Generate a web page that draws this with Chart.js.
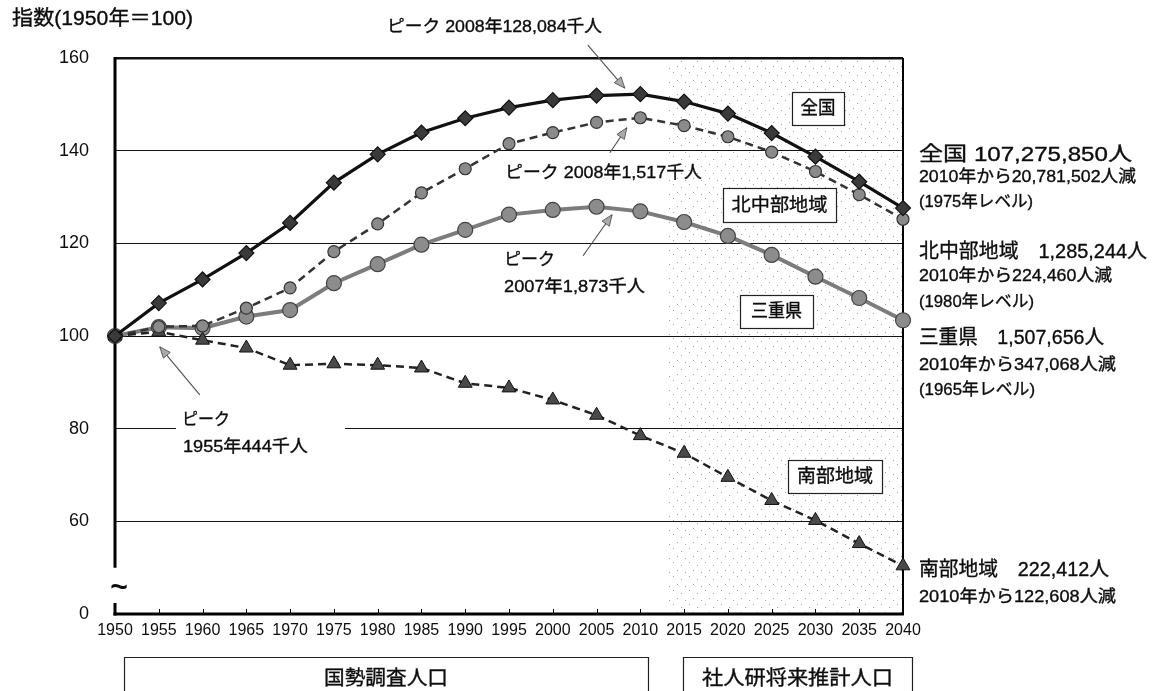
<!DOCTYPE html>
<html lang="ja">
<head>
<meta charset="utf-8">
<title>人口指数の推移（1950年＝100）</title>
<script src="https://cdn.jsdelivr.net/npm/chart.js@4.4.1/dist/chart.umd.min.js"></script>
<style>
  html, body { margin: 0; padding: 0; background: #fff; }
  #wrap { width: 1155px; height: 691px; position: relative; }
  canvas { display: block; }
</style>
</head>
<body>
<div id="wrap"><canvas id="c" width="1155" height="691"></canvas></div>
<script>
// ---- data: population index (1950 = 100) ----
const years = [1950, 1955, 1960, 1965, 1970, 1975, 1980, 1985, 1990, 1995,
               2000, 2005, 2010, 2015, 2020, 2025, 2030, 2035, 2040];

const zenkoku   = [100, 107.1, 112.2, 117.9, 124.4, 133.1, 139.2, 143.9, 147.0, 149.3,
                   150.9, 151.9, 152.2, 150.6, 148.0, 143.8, 138.7, 133.3, 127.6];
const hokuchubu = [100, 102.0, 102.2, 106.0, 110.4, 118.2, 124.2, 130.9, 136.1, 141.5,
                   143.9, 146.1, 147.1, 145.4, 143.0, 139.7, 135.5, 130.5, 125.2];
const mie       = [100, 101.9, 101.7, 104.2, 105.6, 111.4, 115.5, 119.7, 122.9, 126.2,
                   127.2, 127.9, 126.9, 124.6, 121.6, 117.5, 112.8, 108.2, 103.4];
const nanbu     = [100, 100.9, 99.1, 97.4, 93.7, 94.0, 93.7, 93.1, 89.8, 88.8,
                   86.2, 82.9, 78.5, 74.7, 69.5, 64.5, 60.2, 55.2, 50.4];

const seriesNames = ['全国', '北中部地域', '三重県', '南部地域'];

// y axis: the segment below 60 is cut; its bottom tick is labelled 0
const yMin = 40, yMax = 160, yStep = 20;
const yTickLabel = v => (v === yMin ? '0' : String(v));

// projection period (shaded)
const projectionFrom = 2013;

// peaks marked with arrows
const peaks = [
  { year: 2008, value: 152.2, text: ['ピーク 2008年128,084千人'] },
  { year: 2008, value: 147.1, text: ['ピーク 2008年1,517千人'] },
  { year: 2007, value: 127.9, text: ['ピーク', '2007年1,873千人'] },
  { year: 1955, value: 100.9, text: ['ピーク', '1955年444千人'] }
];

// 2040 summary notes at the right
const endNotes = [
  ['全国 107,275,850人', '2010年から20,781,502人減', '(1975年レベル)'],
  ['北中部地域　1,285,244人', '2010年から224,460人減', '(1980年レベル)'],
  ['三重県　1,507,656人', '2010年から347,068人減', '(1965年レベル)'],
  ['南部地域　222,412人', '2010年から122,608人減']
];

const periodLabels = ['国勢調査人口', '社人研将来推計人口'];
const yTitle = '指数(1950年＝100)';

// ---- drawing helpers ----
const FONT = '"Liberation Sans", "Noto Sans CJK JP", sans-serif';
const INK = '#0d0d0d';

function text(ctx, str, x, y, size, width, align) {
  ctx.save();
  ctx.font = size + 'px ' + FONT;
  ctx.textBaseline = 'middle';
  ctx.textAlign = 'left';
  ctx.fillStyle = INK;
  ctx.strokeStyle = INK;
  ctx.lineWidth = 0.35;
  const w = ctx.measureText(str).width;
  const tw = width || w;
  const sx = tw / w;
  const x0 = align === 'center' ? x - tw / 2 : x;
  ctx.translate(x0, y);
  ctx.scale(sx, 1);
  ctx.fillText(str, 0, 0);
  ctx.strokeText(str, 0, 0);
  ctx.restore();
}

function arrow(ctx, x1, y1, x2, y2) {
  ctx.save();
  ctx.strokeStyle = '#555';
  ctx.lineWidth = 1.2;
  ctx.beginPath();
  ctx.moveTo(x1, y1);
  ctx.lineTo(x2, y2);
  ctx.stroke();
  const a = Math.atan2(y2 - y1, x2 - x1), L = 11, W = 4.5;
  const bx = x2 - L * Math.cos(a), by = y2 - L * Math.sin(a);
  ctx.beginPath();
  ctx.moveTo(x2, y2);
  ctx.lineTo(bx + W * Math.sin(a), by - W * Math.cos(a));
  ctx.lineTo(bx - W * Math.sin(a), by + W * Math.cos(a));
  ctx.closePath();
  ctx.fillStyle = '#aaa';
  ctx.fill();
  ctx.strokeStyle = '#444';
  ctx.lineWidth = 0.8;
  ctx.stroke();
  ctx.restore();
}

function boxedLabel(ctx, str, x1, y1, x2, y2, size, tw) {
  ctx.save();
  ctx.fillStyle = '#fff';
  ctx.fillRect(x1, y1, x2 - x1, y2 - y1);
  ctx.strokeStyle = '#222';
  ctx.lineWidth = 1.2;
  ctx.strokeRect(x1 + 0.5, y1 + 0.5, x2 - x1, y2 - y1);
  ctx.restore();
  text(ctx, str, (x1 + x2) / 2, (y1 + y2) / 2 + 1, size, tw, 'center');
}

function makeStipple() {
  const t = document.createElement('canvas');
  t.width = 16; t.height = 14;
  const c = t.getContext('2d');
  c.fillStyle = '#a0a0a0';
  [[1, 2], [9, 5], [5, 10], [13, 12]].forEach(([px, py]) => c.fillRect(px, py, 1, 1));
  return t;
}

// ---- frame, shading and annotations ----
const decor = {
  id: 'decor',
  beforeDraw(chart) {
    const { ctx, chartArea: a, scales: { x } } = chart;
    const xs = x.getPixelForValue(projectionFrom);
    ctx.save();
    ctx.fillStyle = ctx.createPattern(makeStipple(), 'repeat');
    ctx.fillRect(xs, a.top, a.right - xs, a.bottom - a.top);
    ctx.restore();
  },
  beforeDatasetsDraw(chart) {
    const { ctx, chartArea: a, scales: { x, y } } = chart;
    ctx.save();
    ctx.strokeStyle = '#000';
    // right border
    ctx.lineWidth = 2;
    ctx.beginPath();
    ctx.moveTo(a.right, a.top);
    ctx.lineTo(a.right, a.bottom);
    ctx.stroke();
    // left axis, broken below 60
    ctx.lineWidth = 3;
    ctx.beginPath();
    ctx.moveTo(a.left, a.top - 1);
    ctx.lineTo(a.left, y.getPixelForValue(50));
    ctx.moveTo(a.left, y.getPixelForValue(42.4));
    ctx.lineTo(a.left, a.bottom + 1.5);
    ctx.stroke();
    // bottom axis
    ctx.beginPath();
    ctx.moveTo(a.left - 1.5, a.bottom);
    ctx.lineTo(a.right + 1, a.bottom);
    ctx.stroke();
    // inner tick marks on the x axis
    ctx.lineWidth = 1;
    ctx.beginPath();
    years.slice(1, -1).forEach(yr => {
      const px = Math.round(x.getPixelForValue(yr)) + 0.5;
      ctx.moveTo(px, a.bottom);
      ctx.lineTo(px, a.bottom - 5);
    });
    ctx.stroke();
    ctx.restore();
    // break mark
    ctx.save();
    ctx.font = 'bold 30px ' + FONT;
    ctx.fillStyle = INK;
    ctx.textAlign = 'center';
    ctx.textBaseline = 'middle';
    ctx.fillText('~', a.left + 4, y.getPixelForValue(45.5));
    ctx.restore();
  },
  afterDatasetsDraw(chart) {
    const { ctx, scales: { x, y } } = chart;

    // axis title
    text(ctx, yTitle, 12, 19, 20, 181);

    // peak annotations
    const p = peaks;
    let ex = x.getPixelForValue(p[0].year) + 2, ey = y.getPixelForValue(p[0].value) - 6;
    arrow(ctx, ex - 37, ey - 43, ex, ey);
    text(ctx, p[0].text[0], 387, 27, 17, 215);

    ex = x.getPixelForValue(p[1].year) + 4; ey = y.getPixelForValue(p[1].value) + 10;
    arrow(ctx, ex - 17, ey + 25, ex, ey);
    text(ctx, p[1].text[0], 505, 173, 17, 197);

    ex = x.getPixelForValue(p[2].year) - 2; ey = y.getPixelForValue(p[2].value) + 8;
    arrow(ctx, ex - 29, ey + 41, ex, ey);
    text(ctx, p[2].text[0], 504, 260, 17, 51);
    text(ctx, p[2].text[1], 504, 287, 17, 141);

    ctx.save();
    ctx.fillStyle = '#fff';
    ctx.fillRect(176, 404, 169, 58);
    ctx.restore();
    ex = x.getPixelForValue(p[3].year) + 1; ey = y.getPixelForValue(p[3].value) + 15;
    arrow(ctx, ex + 40, ey + 48, ex, ey);
    text(ctx, p[3].text[0], 182, 420, 17, 48);
    text(ctx, p[3].text[1], 183, 447, 17, 125);

    // series name boxes
    boxedLabel(ctx, seriesNames[0], 792, 92, 844, 125, 18, 35);
    boxedLabel(ctx, seriesNames[1], 723, 188, 836, 222, 18, 96);
    boxedLabel(ctx, seriesNames[2], 740, 295, 813, 328, 18, 51);
    boxedLabel(ctx, seriesNames[3], 788, 460, 882, 493, 18, 76);

    // 2040 notes
    const nx = 919;
    text(ctx, endNotes[0][0], nx, 155, 20, 213);
    text(ctx, endNotes[0][1], nx, 177, 17, 217);
    text(ctx, endNotes[0][2], nx, 202, 17, 114);
    text(ctx, endNotes[1][0], nx, 252, 20, 228);
    text(ctx, endNotes[1][1], nx, 276, 17, 193);
    text(ctx, endNotes[1][2], nx, 302, 17, 115);
    text(ctx, endNotes[2][0], nx, 338, 20, 185);
    text(ctx, endNotes[2][1], nx, 365, 17, 197);
    text(ctx, endNotes[2][2], nx, 390, 17, 116);
    text(ctx, endNotes[3][0], nx, 570, 20, 190);
    text(ctx, endNotes[3][1], nx, 597, 17, 197);

    // period boxes under the axis
    ctx.save();
    ctx.strokeStyle = '#222';
    ctx.lineWidth = 1.2;
    ctx.beginPath();
    ctx.moveTo(124.5, 700); ctx.lineTo(124.5, 657.5); ctx.lineTo(648.5, 657.5); ctx.lineTo(648.5, 700);
    ctx.moveTo(683.5, 700); ctx.lineTo(683.5, 657.5); ctx.lineTo(912.5, 657.5); ctx.lineTo(912.5, 700);
    ctx.stroke();
    ctx.restore();
    text(ctx, periodLabels[0], 386, 679, 20, 124, 'center');
    text(ctx, periodLabels[1], 797.5, 679, 20, 191, 'center');
  }
};

// ---- chart ----
const xy = vals => vals.map((v, i) => ({ x: years[i], y: v }));

new Chart(document.getElementById('c'), {
  type: 'line',
  data: {
    datasets: [
      {
        label: seriesNames[2], data: xy(mie),
        borderColor: '#7c7c7c', borderWidth: 4,
        pointStyle: 'circle', pointRadius: 7.5,
        pointBackgroundColor: '#8c8c8c', pointBorderColor: '#444', pointBorderWidth: 1.2,
        clip: false, order: 4
      },
      {
        label: seriesNames[3], data: xy(nanbu),
        borderColor: '#222', borderWidth: 2.5, borderDash: [8, 5],
        pointStyle: 'triangle', pointRadius: 8,
        pointBackgroundColor: '#4a4a4a', pointBorderColor: '#111', pointBorderWidth: 1,
        clip: false, order: 3
      },
      {
        label: seriesNames[1], data: xy(hokuchubu),
        borderColor: '#333', borderWidth: 2.5, borderDash: [8, 5],
        pointStyle: 'circle', pointRadius: 6,
        pointBackgroundColor: '#8a8a8a', pointBorderColor: '#333', pointBorderWidth: 1.2,
        clip: false, order: 2
      },
      {
        label: seriesNames[0], data: xy(zenkoku),
        borderColor: '#111', borderWidth: 3.2,
        pointStyle: 'rectRot', pointRadius: 7.5,
        pointBackgroundColor: '#3a3a3a', pointBorderColor: '#111', pointBorderWidth: 1.2,
        clip: false, order: 1
      }
    ]
  },
  options: {
    responsive: false,
    devicePixelRatio: 1,
    animation: false,
    layout: { padding: { top: 58, right: 252, left: 0, bottom: 0 } },
    plugins: { legend: { display: false }, tooltip: { enabled: false }, title: { display: false } },
    elements: { line: { tension: 0 } },
    scales: {
      x: {
        type: 'linear', min: years[0], max: years[years.length - 1],
        grid: { display: false, drawTicks: false },
        border: { display: false },
        ticks: {
          stepSize: 5, autoSkip: false, maxRotation: 0, padding: 7,
          color: INK, font: { family: FONT, size: 16 },
          callback: v => String(v)
        },
        afterFit: s => { s.height = 77; }
      },
      y: {
        type: 'linear', min: yMin, max: yMax,
        grid: {
          drawTicks: false,
          color: c => (c.tick.value === yMin ? 'rgba(0,0,0,0)' : '#111'),
          lineWidth: c => (c.tick.value === yMax ? 2.5 : 1)
        },
        border: { display: false },
        ticks: {
          stepSize: yStep, padding: 26,
          color: INK, font: { family: FONT, size: 18 },
          callback: v => yTickLabel(v)
        },
        afterFit: s => { s.width = 115; }
      }
    }
  },
  plugins: [decor]
});
</script>
</body>
</html>
